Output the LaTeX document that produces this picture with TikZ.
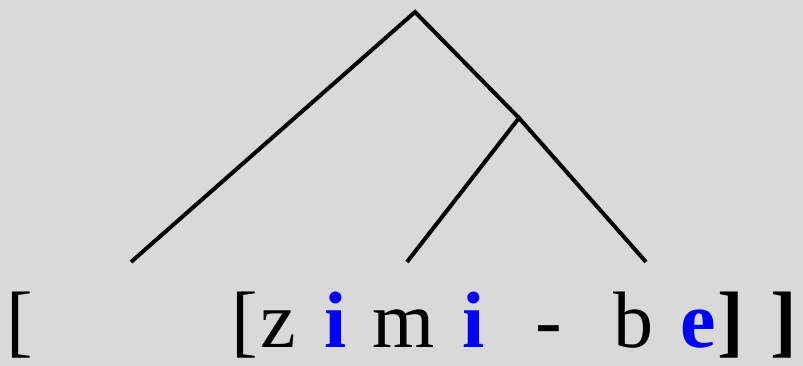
\documentclass[tikz,border=0pt]{standalone}
\usepackage{fontspec}
\setmainfont{Liberation Serif}
\definecolor{bggray}{HTML}{D9D9D9}

\begin{document}
\begin{tikzpicture}[x=0.75pt, y=-0.75pt,
    seg/.style={anchor=base west, inner sep=0pt, font=\fontsize{60}{72}\selectfont},
    hl/.style={seg, text=blue, font=\fontsize{60}{72}\selectfont\bfseries},
    cl/.style={seg, font=\fontsize{60}{72}\selectfont\bfseries},
    branch/.style={line width=3pt}]
        % Background
        \fill[bggray] (0,0) rectangle (803,366);
        \useasboundingbox (0,0) rectangle (803,366);

        % Tree points
        \coordinate (root) at (415,12);
        \coordinate (mid) at (519,118);
        \coordinate (leafA) at (131,262);
        \coordinate (leafB) at (407,262);
        \coordinate (leafC) at (646,262);

        % Branches
        \draw[branch] (leafA) -- (root) -- (mid);
        \draw[branch] (leafB) -- (mid) -- (leafC);

        % Bracketed form
        \node[seg] (lbA) at (6,348) {[};
        \node[seg] (lbB) at (231,348) {[};
        \node[seg] (z) at (260,348) {z};
        \node[hl] (iA) at (324,348) {i};
        \node[seg] (m) at (372,348) {m};
        \node[hl] (iB) at (462,348) {i};
        \node[seg] (dash) at (535,348) {-};
        \node[seg] (b) at (613,348) {b};
        \node[hl] (e) at (680,348) {e};
        \node[cl] (rbB) at (717,348) {]};
        \node[cl] (rbA) at (770,348) {]};
\end{tikzpicture}
\end{document}
